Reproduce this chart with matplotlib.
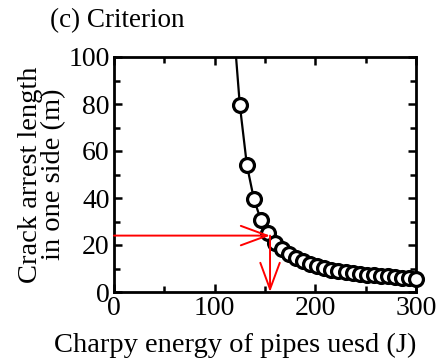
import numpy as np
import matplotlib
matplotlib.use('Agg')
import matplotlib.pyplot as plt
from matplotlib.ticker import MultipleLocator

plt.rcParams['font.family'] = ['Liberation Serif', 'DejaVu Serif']
plt.rcParams['mathtext.fontset'] = 'stix'

# Charpy energy (J) and crack arrest length (m)
energy = [125, 132, 139, 146, 153, 160, 167, 174, 181, 188, 195, 202, 209,
          216, 223, 230, 237, 244, 251, 258, 265, 272, 279, 286, 293, 300]
arrest = [79.5, 54.0, 39.5, 30.5, 25.0, 21.0, 18.3, 16.0, 14.3, 13.0, 11.8,
          10.9, 10.1, 9.5, 9.0, 8.5, 8.1, 7.7, 7.4, 7.1, 6.8, 6.6, 6.3, 6.1,
          5.9, 5.7]

# curve continues above the first marker
curve_x = [120.5] + energy
curve_y = [104.0] + arrest

# criterion reading
crit_x = 155
crit_y = 24

fig = plt.figure(figsize=(4.39, 3.60), dpi=100)
ax = fig.add_axes([114 / 439, 1 - 292 / 360, 302 / 439, 235 / 360])

ax.plot(curve_x, curve_y, color='black', lw=1.6, zorder=2)
ax.plot(energy, arrest, 'o', ms=10, mfc='white', mec='black', mew=2.3,
        zorder=3, clip_on=False)

arrow = dict(arrowstyle='->,head_length=19,head_width=7', mutation_scale=1,
             color='red', lw=1.4, shrinkA=0, shrinkB=0)
ax.annotate('', xy=(crit_x, crit_y), xytext=(0, crit_y), arrowprops=arrow,
            zorder=4)
ax.annotate('', xy=(crit_x, 0), xytext=(crit_x, crit_y), arrowprops=arrow,
            zorder=4)

ax.set_xlim(0, 300)
ax.set_ylim(0, 100)
ax.xaxis.set_major_locator(MultipleLocator(100))
ax.xaxis.set_minor_locator(MultipleLocator(50))
ax.yaxis.set_major_locator(MultipleLocator(20))
ax.yaxis.set_minor_locator(MultipleLocator(10))
ax.tick_params(which='both', direction='in', top=True, right=True,
               width=1.8, labelsize=20, pad=3)
ax.tick_params(which='major', length=6)
ax.tick_params(which='minor', length=4)
for s in ax.spines.values():
    s.set_linewidth(2.0)

ax.set_xlabel('Charpy energy of pipes uesd (J)', fontsize=20.5)
ax.xaxis.set_label_coords(0.40, -0.175)
ax.set_ylabel('Crack arrest length\nin one side (m)', fontsize=20.5,
              labelpad=2, linespacing=0.9)
fig.text(50 / 439, 1 - 21 / 360, '(c) Criterion', fontsize=19.5,
         ha='left', va='center')

fig.savefig('out.png', dpi=100)
